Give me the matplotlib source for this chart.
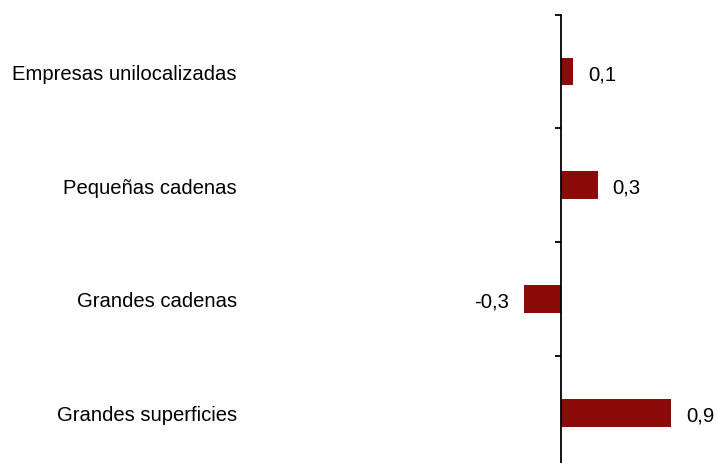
import matplotlib.pyplot as plt
from matplotlib.transforms import blended_transform_factory

# data
categories = ["Empresas unilocalizadas", "Pequeñas cadenas", "Grandes cadenas", "Grandes superficies"]
values = [0.1, 0.3, -0.3, 0.9]
value_labels = ["0,1", "0,3", "-0,3", "0,9"]

plt.rcParams['font.family'] = ['Liberation Sans', 'DejaVu Sans']

W, H = 716, 464
fig = plt.figure(figsize=(W / 100, H / 100), dpi=100)

# axes laid out in pixels: zero line at x=560.7, 122.7 px per unit
x0_px, ppu = 560.7, 122.7
xmin, xmax = -2.5, 1.2
left_px = x0_px + xmin * ppu
right_px = x0_px + xmax * ppu
top_px, bottom_px = 15.7, 470.5
ax = fig.add_axes([left_px / W, (H - bottom_px) / H,
                   (right_px - left_px) / W, (bottom_px - top_px) / H])

ypos = list(range(len(categories)))
ax.barh(ypos, values, height=0.245, color="#8B0A0A", zorder=2)

ax.set_xlim(xmin, xmax)
ax.set_ylim(len(categories) - 0.5, -0.5)

for s in ["top", "right", "bottom"]:
    ax.spines[s].set_visible(False)
ax.spines["left"].set_position(("data", 0))
ax.spines["left"].set_linewidth(1.3)
ax.set_xticks([])
ax.set_yticks([i - 0.5 for i in range(len(categories) + 1)])
ax.set_yticklabels([])
ax.tick_params(axis="y", direction="out", length=4.5, width=1.3)

fs = 14.6
trans = blended_transform_factory(ax.transAxes, ax.transData)
lab_x = (237 - left_px) / (right_px - left_px)
for y, cat in zip(ypos, categories):
    ax.text(lab_x, y, cat, transform=trans, ha="right", va="center_baseline", fontsize=fs)

for y, v, lab in zip(ypos, values, value_labels):
    off = 15 / ppu
    if v >= 0:
        ax.text(v + off, y, lab, ha="left", va="center_baseline", fontsize=fs)
    else:
        ax.text(v - off, y, lab, ha="right", va="center_baseline", fontsize=fs)

fig.savefig("out.png", dpi=100)
